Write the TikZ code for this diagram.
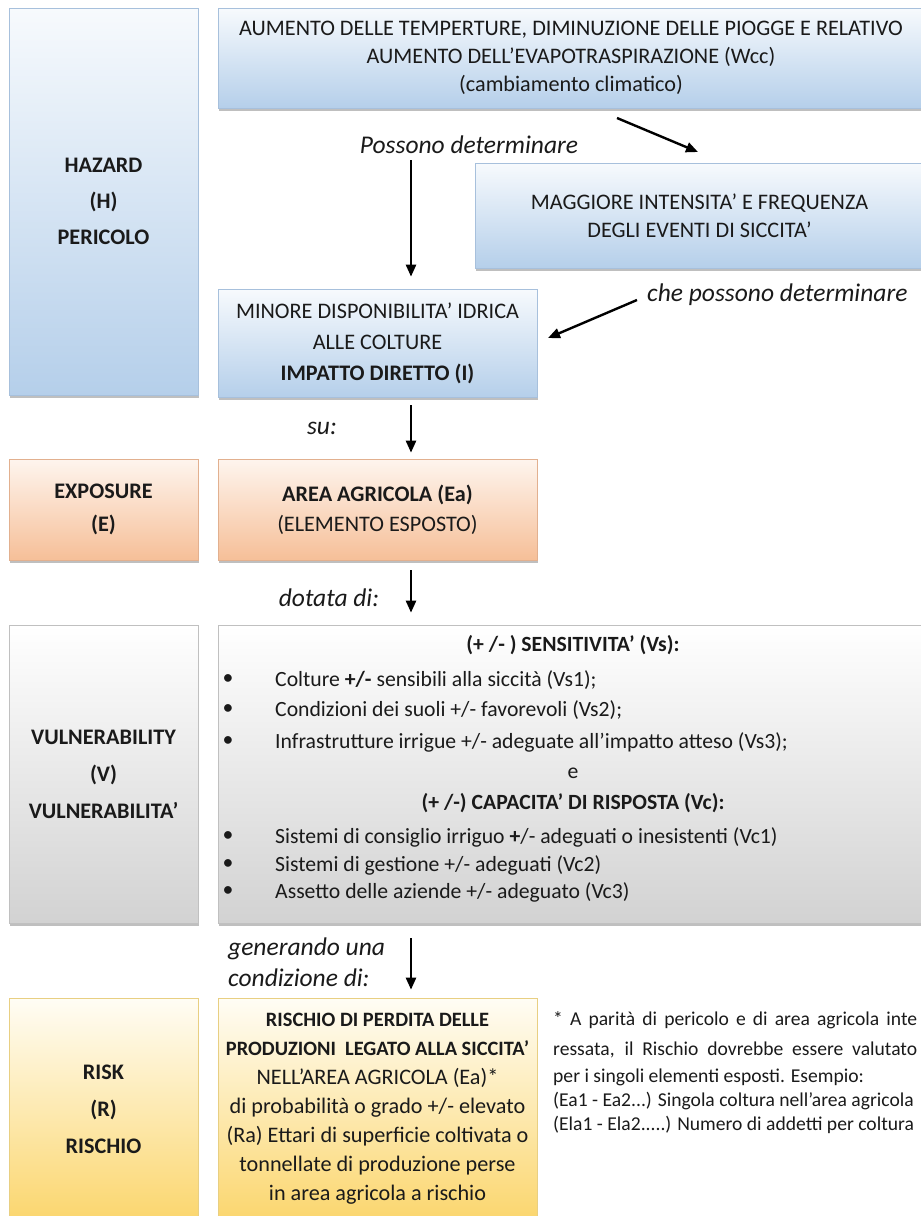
\documentclass[tikz,border=0pt]{standalone}
\usepackage{fontspec}
\setmainfont{Carlito}
\usetikzlibrary{shadows,arrows.meta,calc}
\definecolor{txt}{HTML}{1A1A1A}
\definecolor{bluetop}{HTML}{F7FAFD}
\definecolor{bluebot}{HTML}{B5CFEA}
\definecolor{bluebd}{HTML}{A7C0DC}
\definecolor{oratop}{HTML}{FEF5EE}
\definecolor{orabot}{HTML}{F6BF98}
\definecolor{orabd}{HTML}{E2B08F}
\definecolor{graytop}{HTML}{FFFFFF}
\definecolor{graybot}{HTML}{D2D2D2}
\definecolor{graybd}{HTML}{C0C0C0}
\definecolor{yeltop}{HTML}{FFFDF5}
\definecolor{yelbot}{HTML}{FBD66E}
\definecolor{yelbd}{HTML}{E8CF82}
\newcommand{\fsz}[1]{\fontsize{22.2}{#1}\selectfont}
\begin{document}
\begin{tikzpicture}[x=1pt,y=-1pt,
  box/.style={rectangle, draw, line width=0.7pt, inner sep=0pt, align=center, text=txt,
    drop shadow={shadow xshift=0.8pt, shadow yshift=-2.5pt, opacity=0.45, fill=black!55}},
  bluebox/.style={box, draw=bluebd, top color=bluetop, bottom color=bluebot},
  orabox/.style={box, draw=orabd, top color=oratop, bottom color=orabot},
  graybox/.style={box, draw=graybd, top color=graytop, bottom color=graybot},
  yelbox/.style={box, draw=yelbd, top color=yeltop, bottom color=yelbot},
  lab/.style={font=\fontsize{25.5}{31}\selectfont\itshape, inner sep=0pt, text=txt},
  item/.style={font=\fontsize{21.7}{24}\selectfont, inner sep=0pt, anchor=west, text=txt},
  bul/.style={font=\fontsize{21.7}{24}\selectfont, inner sep=0pt, text=txt},
  sttl/.style={font=\fontsize{21.7}{24}\selectfont\bfseries, inner sep=0pt, text=txt},
  fn/.style={font=\fontsize{19.6}{24}\selectfont, inner sep=0pt, anchor=west, text=txt},
  arr/.style={line width=2.4pt, -{Triangle[length=12pt,width=10pt]}},
]
\useasboundingbox (0,0) rectangle (921,1216);
\clip (0,0) rectangle (921,1216);
\fill[white] (0,0) rectangle (921,1216);

% left column
\node[bluebox, minimum width=189, minimum height=387, font=\fsz{36}\bfseries] (haz) at (103.5,201.5) {HAZARD\\(H)\\PERICOLO};
\node[orabox, minimum width=189, minimum height=101, font=\fsz{33}\bfseries] (expo) at (103.5,509.5) {EXPOSURE\\(E)};
\node[graybox, minimum width=189, minimum height=298, font=\fsz{37}\bfseries] (vul) at (103.5,774) {VULNERABILITY\\(V)\\VULNERABILITA’};
\node[yelbox, minimum width=189, minimum height=222, font=\fsz{37}\bfseries] (risk) at (103.5,1109) {RISK\\(R)\\RISCHIO};

% right column
\node[bluebox, minimum width=706, minimum height=100, font=\fsz{28}] (wcc) at (571,58) {AUMENTO DELLE TEMPERTURE, DIMINUZIONE DELLE PIOGGE E RELATIVO\\AUMENTO DELL’EVAPOTRASPIRAZIONE (Wcc)\\(cambiamento climatico)};
\node[bluebox, minimum width=449, minimum height=105, font=\fsz{28}] (mag) at (699.5,215.5) {MAGGIORE INTENSITA’ E FREQUENZA\\DEGLI EVENTI DI SICCITA’};
\node[bluebox, minimum width=319, minimum height=108, font=\fsz{31}] (min) at (377.5,343) {MINORE DISPONIBILITA’ IDRICA\\ALLE COLTURE\\\textbf{IMPATTO DIRETTO (I)}};
\node[orabox, minimum width=319, minimum height=101, font=\fsz{30}] (area) at (377.5,509.5) {\textbf{AREA AGRICOLA (Ea)}\\(ELEMENTO ESPOSTO)};
\node[graybox, minimum width=706, minimum height=298] (sens) at (571,774) {};
\node[yelbox, minimum width=319, minimum height=222, font=\fsz{29}] (ris) at (377.5,1109) {{\fontsize{20.4}{29}\selectfont\bfseries RISCHIO DI PERDITA DELLE}\\{\fontsize{20.4}{29}\selectfont\bfseries PRODUZIONI\ \ LEGATO ALLA SICCITA’}\\NELL’AREA AGRICOLA (Ea)*\\di probabilità o grado +/- elevato\\(Ra) Ettari di superficie coltivata o\\tonnellate di produzione perse\\in area agricola a rischio};

% vulnerability content
\node[sttl] (st1) at (573,645) {(+ /- ) SENSITIVITA’ (Vs):};
\node[bul] (b1) at (228,680) {•};
\node[item] (t1) at (275,680) {Colture \textbf{+/-} sensibili alla siccità (Vs1);};
\node[bul] (b2) at (228,710) {•};
\node[item] (t2) at (275,710) {Condizioni dei suoli +/- favorevoli (Vs2);};
\node[bul] (b3) at (228,742) {•};
\node[item] (t3) at (275,742) {Infrastrutture irrigue +/- adeguate all’impatto atteso (Vs3);};
\node[bul] (e) at (573,773) {e};
\node[sttl] (st2) at (573,803) {(+ /-) CAPACITA’ DI RISPOSTA (Vc):};
\node[bul] (b4) at (228,837) {•};
\node[item] (t4) at (275,837) {Sistemi di consiglio irriguo \textbf{+}/- adeguati o inesistenti (Vc1)};
\node[bul] (b5) at (228,865) {•};
\node[item] (t5) at (275,865) {Sistemi di gestione +/- adeguati (Vc2)};
\node[bul] (b6) at (228,892) {•};
\node[item] (t6) at (275,892) {Assetto delle aziende +/- adeguato (Vc3)};

% labels
\node[lab] (l1) at (469,145) {Possono determinare};
\node[lab, anchor=west] (l2) at (647,295) {che possono determinare};
\node[lab] (l3) at (322,428) {su:};
\node[lab] (l4) at (329,598) {dotata di:};
\node[lab, anchor=west, align=left] (l5) at (228,962) {generando una\\condizione di:};

% arrows
\coordinate (ax) at (411,0);
\draw[arr, shorten <=52pt, shorten >=12pt] (wcc.south -| ax) -- (min.north -| ax);
\draw[arr, shorten <=8pt, shorten >=6pt] (min.south -| ax) -- (area.north -| ax);
\draw[arr, shorten <=10pt, shorten >=12pt] (area.south -| ax) -- (sens.north -| ax);
\draw[arr, shorten <=15pt, shorten >=8pt] (sens.south -| ax) -- (ris.north -| ax);
\coordinate (d1s) at (617,118);
\coordinate (d1e) at (698,152);
\draw[arr] (d1s) -- (d1e);
\coordinate (d2s) at (637,300);
\coordinate (d2e) at (548,338);
\draw[arr] (d2s) -- (d2e);

% footnote
\node[fn] (f1) at (553,1020) {\makebox[364pt][s]{* A parità di pericolo e di area agricola inte}};
\node[fn] (f2) at (553,1050) {\makebox[364pt][s]{ressata, il Rischio dovrebbe essere valutato}};
\node[fn] (f3) at (553,1077) {per i singoli elementi esposti. Esempio:};
\node[fn] (f4) at (553,1101) {(Ea1 - Ea2...) Singola coltura nell’area agricola};
\node[fn] (f5) at (553,1125) {(Ela1 - Ela2.....) Numero di addetti per coltura};
\end{tikzpicture}
\end{document}
